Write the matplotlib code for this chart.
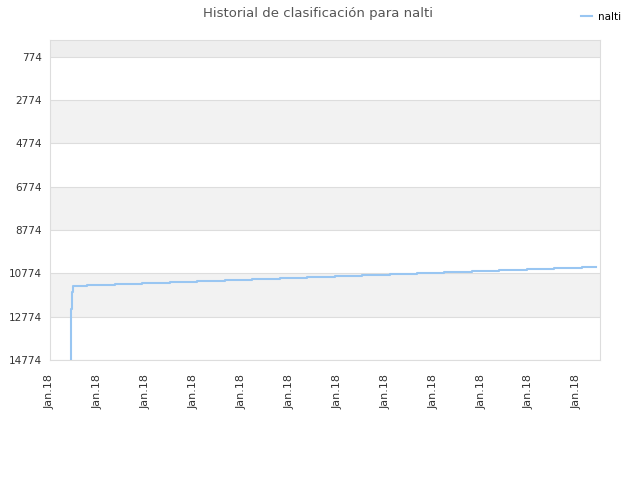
import matplotlib
matplotlib.use("Agg")
import matplotlib.pyplot as plt

# posición en el eje x (unidades de marca) y clasificación
pos_x = [0.432, 0.432, 0.453, 0.474, 0.772, 1.357, 1.921, 2.505, 3.069, 3.653,
         4.217, 4.802, 5.365, 5.950, 6.514, 7.098, 7.662, 8.225, 8.810, 9.374,
         9.958, 10.522, 11.106, 11.399]
rank = [14774, 12406, 11620, 11344, 11298, 11252, 11206, 11160, 11114, 11068,
        11022, 10976, 10930, 10884, 10838, 10792, 10746, 10700, 10654, 10608,
        10562, 10516, 10470, 10470]
y_ticks = [774, 2774, 4774, 6774, 8774, 10774, 12774, 14774]
x_labels = ["Jan.18"] * 12

plt.rcParams["font.family"] = ["DejaVu Sans"]

fig = plt.figure(figsize=(6.4, 4.8), dpi=100)
ax = fig.add_axes([50 / 640, 1 - 360 / 480, 550 / 640, 320 / 480])

# bandas alternas
ax.axhspan(0, 774, color="#eeeeee", zorder=0, lw=0)
for i in range(len(y_ticks) - 1):
    if i % 2 == 1:
        ax.axhspan(y_ticks[i], y_ticks[i + 1], color="#f2f2f2", zorder=0, lw=0)
for t in y_ticks:
    ax.axhline(t, color="#dddddd", lw=0.8, zorder=1)

ax.step(pos_x, rank, where="post", color="#99c6f2", lw=1.5, zorder=3,
        label="nalti")

ax.set_ylim(14774, -5)
ax.set_xlim(0, 550 / 47.9)
ax.set_yticks(y_ticks)
ax.set_yticklabels([str(t) for t in y_ticks], fontsize=7.5, color="#333333")
ax.set_xticks(range(len(x_labels)))
ax.set_xticklabels(x_labels, rotation=90, fontsize=8, color="#333333")
ax.tick_params(axis="y", length=0, pad=6)
ax.tick_params(axis="x", length=0, pad=10)

for s in ax.spines.values():
    s.set_color("#dddddd")

fig.suptitle("Historial de clasificación para nalti", x=0.497, y=0.985,
             fontsize=9.5, color="#555555")
fig.legend(loc="upper right", bbox_to_anchor=(0.985, 0.995), frameon=False,
           fontsize=7.5, handlelength=1.0, handletextpad=0.6)

fig.savefig("out.png", dpi=100)
